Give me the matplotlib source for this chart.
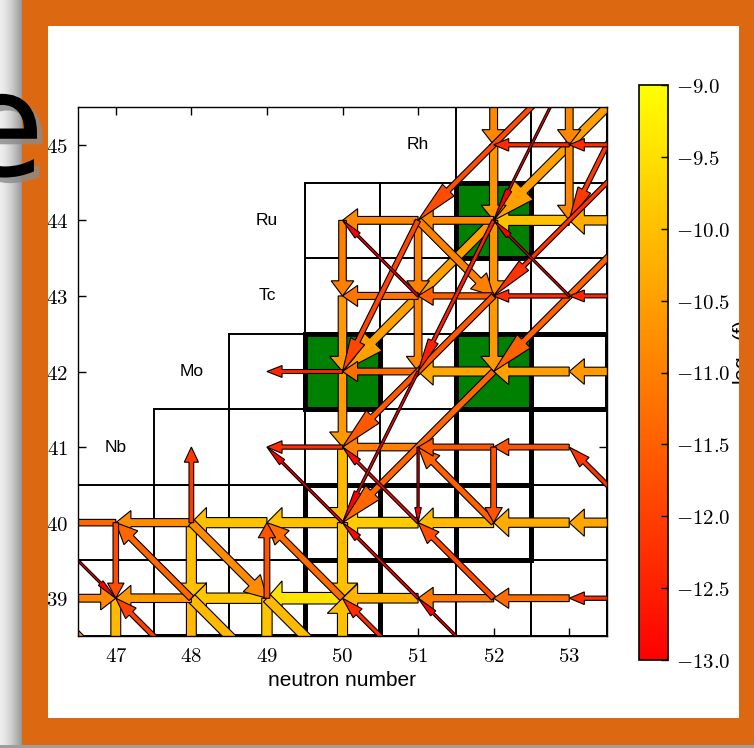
import numpy as np
import matplotlib
matplotlib.use('Agg')
import matplotlib.pyplot as plt
import matplotlib.patheffects as pe
from matplotlib.patches import Rectangle, Arrow
from matplotlib.colors import Normalize
from matplotlib.cm import ScalarMappable
from matplotlib.ticker import FuncFormatter, FixedLocator
from matplotlib.transforms import Bbox, TransformedBbox

plt.rcParams['mathtext.fontset'] = 'cm'

# ---------------- data ----------------
# nuclide rows: proton number and range of neutron numbers present
row_Z = [38, 39, 40, 41, 42, 43, 44, 45]
row_Nmin = [46, 46, 46, 48, 49, 50, 50, 52]
row_Nmax = [54, 54, 54, 54, 54, 54, 54, 54]
stable = [(48, 38), (49, 38), (50, 38), (50, 39), (50, 40), (51, 40), (52, 40),
          (52, 41), (50, 42), (52, 42), (53, 42), (52, 44)]
p_nuclei = [(50, 42), (52, 42), (52, 44)]
element_names = ['Nb', 'Mo', 'Tc', 'Ru', 'Rh']
element_N = [47, 48, 49, 49, 51]
element_Z = [41, 42, 43, 44, 45]

# flows: (N, Z, log10 f) of the starting nucleus, grouped by reaction
gn_flows = [(54, 45, -12.3), (53, 45, -12.3), (54, 44, -10.3), (53, 44, -10.0),
            (52, 44, -10.9), (51, 44, -10.9), (54, 43, -12.4), (53, 43, -12.3),
            (52, 43, -11.5), (51, 43, -11.2), (54, 42, -10.6), (53, 42, -10.5),
            (52, 42, -10.4), (51, 42, -11.3), (50, 42, -12.4), (53, 41, -11.7),
            (52, 41, -11.6), (51, 41, -11.0), (50, 41, -12.3), (54, 40, -10.4),
            (53, 40, -10.3), (52, 40, -10.1), (51, 40, -9.8), (50, 40, -10.0),
            (49, 40, -10.0), (48, 40, -10.8), (47, 40, -11.4), (54, 39, -12.3),
            (53, 39, -11.3), (52, 39, -11.1), (51, 39, -10.2), (50, 39, -9.45),
            (49, 39, -9.9), (48, 39, -10.6)]
ng_flows = [(46, 39, -10.9)]
gp_flows = [(52, 46, -10.9), (53, 46, -10.9), (52, 45, -10.7), (53, 45, -10.9),
            (50, 44, -11.0), (51, 44, -11.0), (52, 44, -10.7), (50, 43, -10.6),
            (51, 43, -10.9), (52, 43, -10.6), (50, 42, -10.6), (52, 41, -11.7),
            (51, 41, -13.1), (50, 41, -10.1), (50, 40, -10.0), (47, 40, -11.8),
            (48, 40, -10.0), (47, 39, -10.1), (48, 39, -10.1), (49, 39, -9.9)]
pg_flows = [(48, 40, -12.1), (49, 39, -11.7), (50, 38, -10.0)]
ga_flows = [(54, 46, -10.5), (53, 46, -11.8), (52, 44, -10.5), (54, 45, -12.2),
            (54, 44, -11.5), (52, 43, -11.6), (52, 42, -11.4)]
na_flows = [(53, 46, -13.1), (54, 46, -12.1), (51, 44, -11.9), (52, 44, -12.5),
            (51, 42, -13.0)]
pn_flows = [(51, 43, -13.0), (53, 43, -13.1), (54, 40, -12.2), (52, 40, -11.5),
            (51, 40, -12.9), (52, 39, -11.8), (51, 39, -12.9), (50, 40, -13.0),
            (50, 39, -11.3), (48, 39, -11.4), (48, 38, -12.0), (51, 38, -12.3),
            (52, 38, -13.0)]
np_flows = [(51, 44, -11.0), (48, 40, -10.8), (49, 39, -10.1), (48, 39, -10.1),
            (46, 40, -13.1), (46, 39, -10.6)]

cbar_ticks = [-9.0, -9.5, -10.0, -10.5, -11.0, -11.5, -12.0, -12.5, -13.0]
x_ticks = [47, 48, 49, 50, 51, 52, 53]
y_ticks = [39, 40, 41, 42, 43, 44, 45]

# ---------------- figure ----------------
W, H = 754, 748
fig = plt.figure(figsize=(W / 100, H / 100), dpi=100)
fig.patch.set_facecolor('white')


def fx(px):
    return px / W


def fy(py):
    return 1 - py / H


# background slide decoration (gray shadow at left/bottom)
bg = fig.add_axes([0, 0, 1, 1], zorder=-10)
bg.set_axis_off()
img = np.ones((H, W, 3))
xs = np.arange(22)
shade = 0.93 - 0.33 * (xs / 21.0) ** 1.5
img[:, :22, :] = shade[None, :, None]
img[745:, :, :] = 0.62
bg.imshow(img, extent=[0, 1, 0, 1], aspect='auto', interpolation='bilinear')
bg.set_xlim(0, 1)
bg.set_ylim(0, 1)

orange = '#dc6912'
for (x0, y0, x1, y1) in [(22, 0, 754, 26), (22, 718, 754, 745),
                         (22, 26, 48, 718), (739, 26, 754, 718)]:
    fig.patches.append(Rectangle((fx(x0), fy(y1)), (x1 - x0) / W, (y1 - y0) / H,
                                 transform=fig.transFigure, facecolor=orange,
                                 edgecolor='none', zorder=20))
# large letter at the left edge (remnant of the slide title), with shadow
clip = TransformedBbox(Bbox([[0, 0], [48 / W, 1]]), fig.transFigure)
te = fig.text(fx(-45), fy(135), 'e', fontsize=105, color='black', ha='left',
              va='center', family='DejaVu Sans', zorder=22,
              path_effects=[pe.SimplePatchShadow(offset=(4, -4),
                                                 shadow_rgbFace='#8a8a8a',
                                                 alpha=0.8),
                            pe.Normal()])
te.set_clip_box(clip)
te.set_clip_on(True)

ax = fig.add_axes([fx(78), fy(636), 529 / W, 529 / H])
ax.set_xlim(46.5, 53.5)
ax.set_ylim(38.5, 45.5)

# cells
for Z, n0, n1 in zip(row_Z, row_Nmin, row_Nmax):
    for N in range(n0, n1 + 1):
        if (N, Z) in stable:
            continue
        ax.add_patch(Rectangle((N - 0.5, Z - 0.5), 1, 1, facecolor='white',
                               edgecolor='black', lw=1.4, zorder=1))
for (N, Z) in stable:
    fc = 'green' if (N, Z) in p_nuclei else 'white'
    ax.add_patch(Rectangle((N - 0.5, Z - 0.5), 1, 1, facecolor=fc,
                           edgecolor='black', lw=3.6, zorder=2))

for name, N, Z in zip(element_names, element_N, element_Z):
    ax.text(N, Z, name, ha='center', va='center', fontsize=12.5,
            family='Liberation Sans', zorder=3)

cmap = plt.get_cmap('autumn')
norm = Normalize(vmin=-13, vmax=-9)

offsets = {'gn': (-1, 0), 'ng': (1, 0), 'gp': (0, -1), 'pg': (0, 1),
           'ga': (-2, -2), 'na': (-1, -2), 'pn': (-1, 1), 'np': (1, -1)}
groups = [('gn', gn_flows), ('ng', ng_flows), ('gp', gp_flows), ('pg', pg_flows),
          ('ga', ga_flows), ('na', na_flows), ('pn', pn_flows), ('np', np_flows)]
arrows = []
for key, lst in groups:
    dN, dZ = offsets[key]
    for (N, Z, f) in lst:
        arrows.append((N, Z, dN, dZ, f))
arrows.sort(key=lambda a: -a[4])
for (N, Z, dN, dZ, f) in arrows:
    w = max(0.10, 0.16 + 0.17 * (f + 13.0))
    ar = Arrow(N, Z, dN, dZ, width=w, facecolor=cmap(norm(f)),
               edgecolor='black', lw=0.8, zorder=5)
    ax.add_patch(ar)

ax.xaxis.set_major_locator(FixedLocator(x_ticks))
ax.yaxis.set_major_locator(FixedLocator(y_ticks))
fmt = FuncFormatter(lambda v, p: r'$%d$' % v)
ax.xaxis.set_major_formatter(fmt)
ax.yaxis.set_major_formatter(fmt)
ax.tick_params(direction='in', length=6, width=1, top=True, right=True,
               labelsize=15, pad=7)
for s in ax.spines.values():
    s.set_linewidth(1.0)
    s.set_zorder(6)
ax.set_xlabel('neutron number', fontsize=15, family='Liberation Sans', labelpad=4)

cax = fig.add_axes([fx(639), fy(660), 29 / W, 575 / H])
cb = fig.colorbar(ScalarMappable(norm=norm, cmap=cmap), cax=cax)
cb.set_ticks(cbar_ticks)
cb.set_ticklabels([r'$%.1f$' % t for t in cbar_ticks])
cax.tick_params(direction='in', length=5, width=1, labelsize=15, pad=6)
cb.outline.set_linewidth(1.2)
fig.text(fx(731), fy(352), r'log$_{10}$(f)', rotation=90, ha='left',
         va='center', fontsize=15, family='Liberation Sans', zorder=3)

fig.savefig('out.png', dpi=100)
